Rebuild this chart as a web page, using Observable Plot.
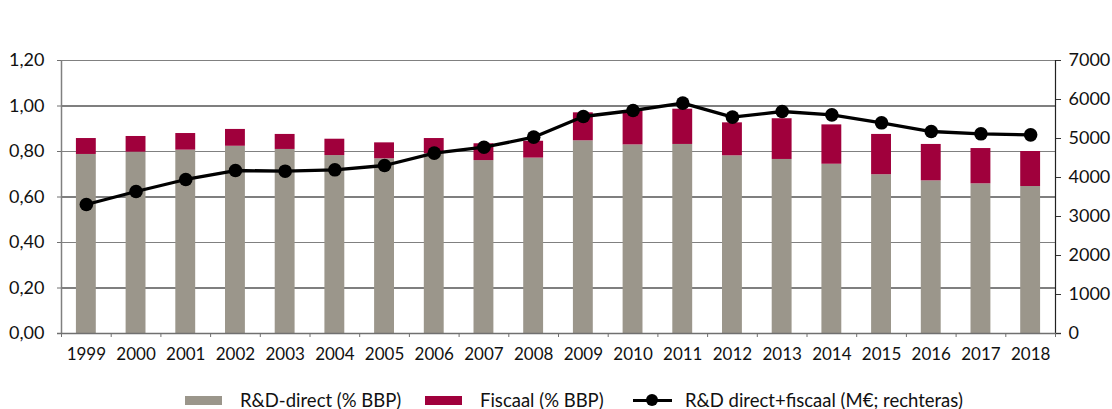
<!DOCTYPE html>
<html>
<head>
<meta charset="utf-8">
<script src="https://cdn.jsdelivr.net/npm/d3@7"></script>
<script src="https://cdn.jsdelivr.net/npm/@observablehq/plot@0.6"></script>
<style>
  html, body { margin: 0; padding: 0; background: #fff; }
  body { width: 1112px; height: 409px; position: relative; overflow: hidden; font-family: Lato, "Noto Sans", sans-serif; }
  #topline { position: absolute; left: 10px; top: 8px; width: 1102px; height: 0; border-top: 2px solid #707070; }
  #chart { position: absolute; left: 0; top: 0; }
  .lg { position: absolute; top: 390px; height: 20px; display: flex; align-items: center; font-size: 18.5px; color: #111; white-space: nowrap; }
  .sw { position: absolute; top: 396px; width: 37px; height: 9px; }
  .line-sym { position: absolute; top: 394px; width: 39px; height: 12px; }
  .line-sym:before { content: ""; position: absolute; left: 0; right: 0; top: 4.5px; height: 3px; background: #000; }
  .line-sym:after { content: ""; position: absolute; left: 13px; top: 0; width: 12px; height: 12px; border-radius: 50%; background: #000; }
</style>
</head>
<body>
<div id="topline"></div>
<div id="chart"></div>
<div id="legend"></div>
<script>
const years = [1999,2000,2001,2002,2003,2004,2005,2006,2007,2008,2009,2010,2011,2012,2013,2014,2015,2016,2017,2018];
const directPct = [0.787,0.797,0.806,0.823,0.809,0.782,0.768,0.790,0.760,0.771,0.847,0.829,0.831,0.781,0.765,0.744,0.698,0.671,0.658,0.646];
const fiscalPct = [0.070,0.069,0.073,0.074,0.066,0.072,0.070,0.067,0.074,0.074,0.123,0.147,0.155,0.145,0.179,0.173,0.177,0.160,0.155,0.154];
const totalMEUR = [3308,3641,3949,4179,4162,4197,4308,4624,4777,5034,5564,5718,5906,5547,5692,5607,5402,5179,5120,5094];
const leftTicks = [0,0.2,0.4,0.6,0.8,1.0,1.2];
const rightTicks = [0,1000,2000,3000,4000,5000,6000,7000];
const seriesNames = ["R&D-direct (% BBP)", "Fiscaal (% BBP)", "R&D direct+fiscaal (M€; rechteras)"];
const colors = { direct: "#9b968b", fiscal: "#a0003c", line: "#000000" };

const leftMax = 1.2, rightMax = 7000;
const toLeft = v => v * leftMax / rightMax;
const halfBar = 0.2;

const bars = [];
years.forEach((y, i) => {
  bars.push({year: y, s: "direct", y1: 0, y2: directPct[i]});
  bars.push({year: y, s: "fiscal", y1: directPct[i], y2: directPct[i] + fiscalPct[i]});
});
const lineData = years.map((y, i) => ({year: y, v: toLeft(totalMEUR[i])}));
const boundaries = [years[0] - 0.5, ...years.map(y => y + 0.5)];
const fmtL = d => d.toFixed(2).replace(".", ",");

const plot = Plot.plot({
  width: 1112,
  height: 375,
  marginTop: 60,
  marginBottom: 42,
  marginLeft: 61,
  marginRight: 57,
  style: { fontFamily: "Lato, 'Noto Sans', sans-serif", fontSize: "17px", color: "#111", background: "#fff" },
  x: { domain: [years[0] - 0.5, years[years.length - 1] + 0.5], label: null },
  y: { domain: [0, leftMax], label: null },
  marks: [
    Plot.ruleY(leftTicks.filter(d => d > 0), { stroke: d => (Math.round(d * 10) % 4 === 0 ? "#808080" : "#000"), strokeWidth: 1.2 }),
    Plot.rectY(bars, { x1: d => d.year - halfBar, x2: d => d.year + halfBar, y1: "y1", y2: "y2", fill: d => colors[d.s] }),
    Plot.ruleX([years[0] - 0.5], { stroke: "#808080", strokeWidth: 1.5 }),
    Plot.ruleX([years[years.length - 1] + 0.5], { stroke: "#222", strokeWidth: 1.2 }),
    Plot.ruleY([0], { stroke: "#707070", strokeWidth: 1.5, insetLeft: -4, insetRight: -6 }),
    Plot.axisX(boundaries, { tickSize: 4, tickFormat: () => "", stroke: "#707070", label: null }),
    Plot.axisX(years, { tickSize: 0, tickPadding: 14, tickFormat: d => String(d), fontSize: 17, label: null }),
    Plot.axisY(leftTicks, { anchor: "left", tickSize: 4, tickPadding: 13, tickFormat: fmtL, stroke: "#707070", fontSize: 18, label: null }),
    Plot.axisY(rightTicks.map(toLeft), { anchor: "right", tickSize: 5, tickPadding: 8, tickFormat: d => String(Math.round(d * rightMax / leftMax)), stroke: "#333", fontSize: 18, label: null }),
    Plot.line(lineData, { x: "year", y: "v", stroke: colors.line, strokeWidth: 3.3 }),
    Plot.dot(lineData, { x: "year", y: "v", r: 6.8, fill: colors.line, stroke: "none" })
  ]
});
document.getElementById("chart").appendChild(plot);

const legend = document.getElementById("legend");
const esc = s => s.replace(/&/g, "&amp;");
legend.innerHTML = `
  <span class="sw" style="left:185px;background:${colors.direct}"></span><span class="lg" style="left:240px">${esc(seriesNames[0])}</span>
  <span class="sw" style="left:425px;background:${colors.fiscal}"></span><span class="lg" style="left:480px">${esc(seriesNames[1])}</span>
  <span class="line-sym" style="left:633px"></span><span class="lg" style="left:685px">${esc(seriesNames[2])}</span>`;
</script>
</body>
</html>
